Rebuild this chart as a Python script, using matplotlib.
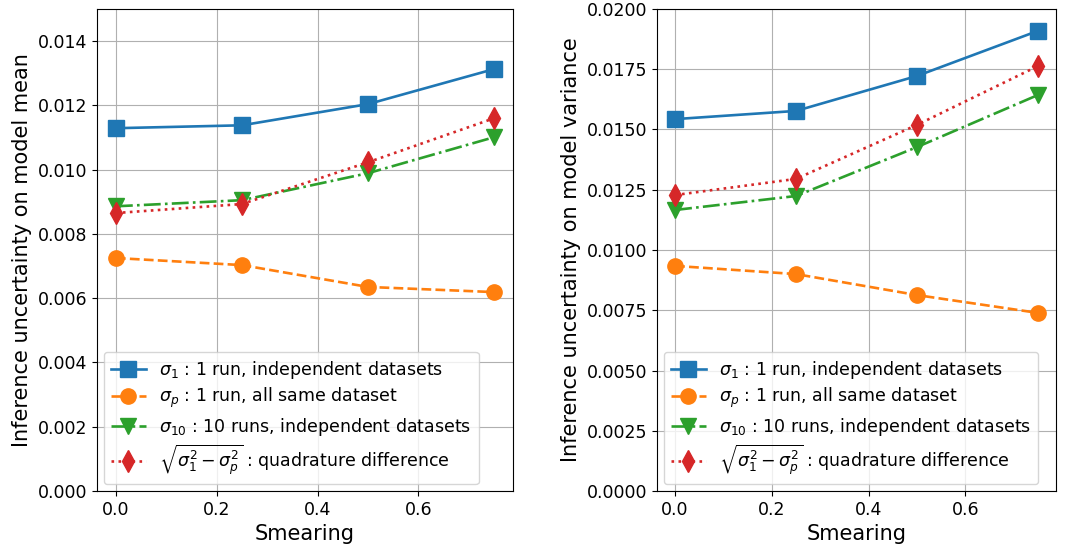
import matplotlib
matplotlib.use("Agg")
import matplotlib.pyplot as plt

smearing = [0.0, 0.25, 0.5, 0.75]

# left: model mean
mean_s1 = [0.01129, 0.01138, 0.01204, 0.01313]
mean_sp = [0.00725, 0.00703, 0.00635, 0.00619]
mean_s10 = [0.00886, 0.00905, 0.00989, 0.01101]
mean_quad = [0.00865, 0.00893, 0.01023, 0.01160]

# right: model variance
var_s1 = [0.01543, 0.01577, 0.01722, 0.01909]
var_sp = [0.00934, 0.00900, 0.00813, 0.00739]
var_s10 = [0.01166, 0.01224, 0.01427, 0.01643]
var_quad = [0.01228, 0.01295, 0.01519, 0.01763]

labels = [
    r"$\sigma_1$ : 1 run, independent datasets",
    r"$\sigma_p$ : 1 run, all same dataset",
    r"$\sigma_{10}$ : 10 runs, independent datasets",
    r"$\sqrt{\sigma_1^2 - \sigma_p^2}$ : quadrature difference",
]

plt.rcParams["font.size"] = 12.5
plt.rcParams["lines.linewidth"] = 1.9

fig, (ax1, ax2) = plt.subplots(1, 2, figsize=(10.67, 5.54), dpi=100)


def draw(ax, s1, sp, s10, quad, ylabel, ylim):
    ax.plot(smearing, s1, "s-", color="C0", markersize=11, label=labels[0])
    ax.plot(smearing, sp, "o--", color="C1", markersize=11, label=labels[1])
    ax.plot(smearing, s10, "v-.", color="C2", markersize=11, label=labels[2])
    ax.plot(smearing, quad, "d:", color="C3", markersize=11, label=labels[3])
    ax.set_xlabel("Smearing", fontsize=15)
    ax.set_ylabel(ylabel, fontsize=15)
    ax.set_ylim(*ylim)
    ax.grid(True)
    ax.legend(loc="lower left", fontsize=12.5, labelspacing=0.3,
              borderaxespad=0.4)


draw(ax1, mean_s1, mean_sp, mean_s10, mean_quad,
     "Inference uncertainty on model mean", (0, 0.015))
draw(ax2, var_s1, var_sp, var_s10, var_quad,
     "Inference uncertainty on model variance", (0, 0.02))

ax1.set_position([0.0909, 0.1137, 0.3899, 0.8701])
ax2.set_position([0.6157, 0.1137, 0.3740, 0.8701])

fig.savefig("out.png", dpi=100)
